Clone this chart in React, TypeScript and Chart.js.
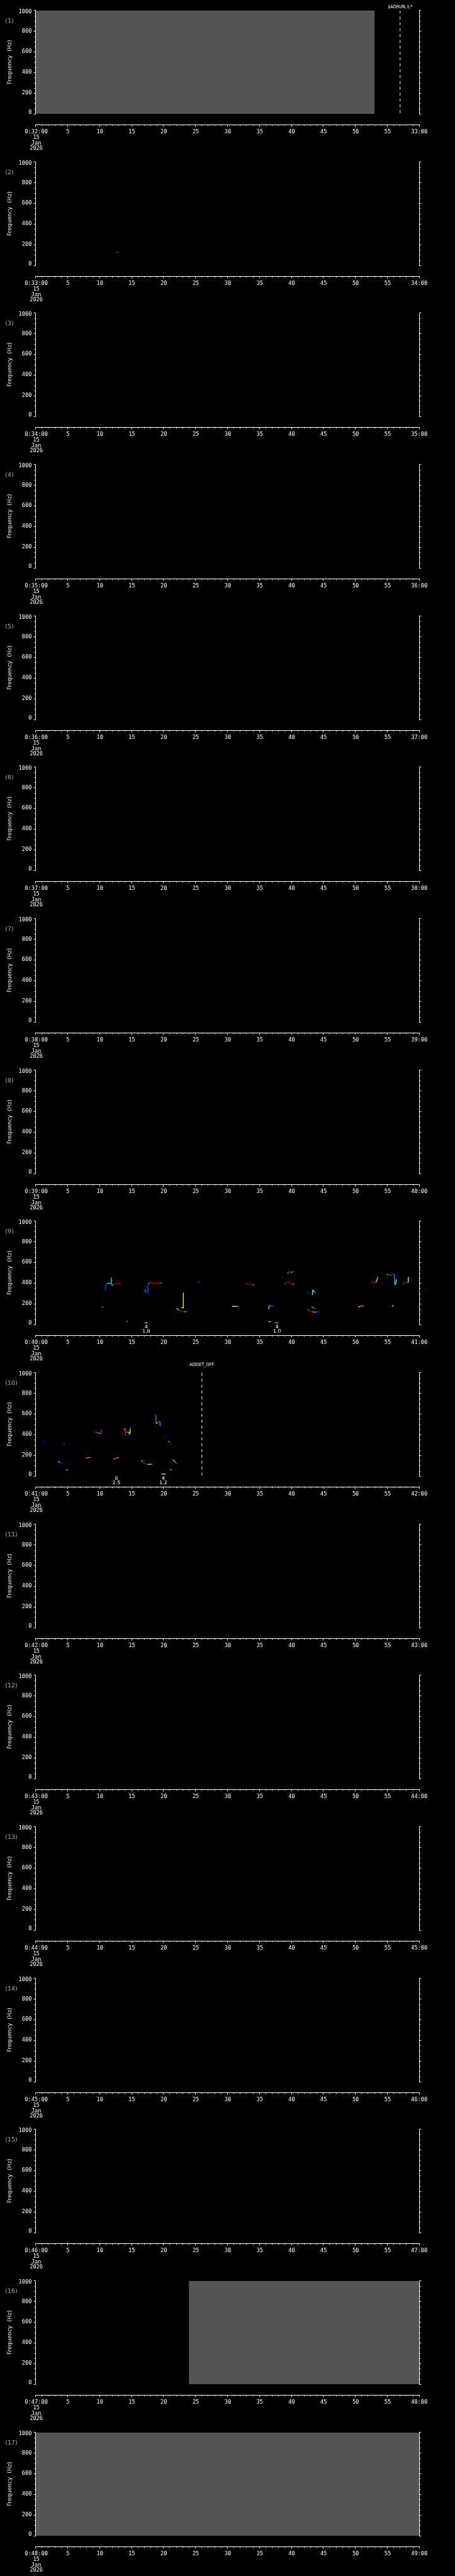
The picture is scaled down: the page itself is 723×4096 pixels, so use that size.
import React, { useEffect, useRef } from 'react';
import { Chart, registerables } from 'chart.js';

Chart.register(...registerables);

// ---------- scale & geometry (reference px, scaled by S) ----------
const S = 0.705;
const W = 723;
const PITCH = 341.36 * S;
const BLOCK_H = 241;

// ---------- labels ----------
const panelStartLabels = ['0:32:00', '0:33:00', '0:34:00', '0:35:00', '0:36:00', '0:37:00', '0:38:00', '0:39:00', '0:40:00', '0:41:00', '0:42:00', '0:43:00', '0:44:00', '0:45:00', '0:46:00', '0:47:00', '0:48:00'];
const panelEndLabels = ['33:00', '34:00', '35:00', '36:00', '37:00', '38:00', '39:00', '40:00', '41:00', '42:00', '43:00', '44:00', '45:00', '46:00', '47:00', '48:00', '49:00'];
const xInnerTickLabels = ['5', '10', '15', '20', '25', '30', '35', '40', '45', '50', '55'];
const xInnerTickValues = [5, 10, 15, 20, 25, 30, 35, 40, 45, 50, 55];
const dateLines = ['15', 'Jan', '2026'];
const yTickValues = [0, 200, 400, 600, 800, 1000];
const yTickLabels = ['0', '200', '400', '600', '800', '1000'];
const yAxisTitle = 'Frequency  (Hz)';

// gray (no data) regions: [panel number, from s, to s]
const grayRegions: [number, number, number][] = [
  [1, 0, 53.0],
  [16, 23.97, 60],
  [17, 0, 60],
];

// event markers: [panel, time s, label, label y (ref px in block)]
const eventMarkers: [number, number, string, number][] = [
  [1, 57.0, '$ADRUN,3,*', 15.8],
  [10, 26.0, 'ADDET_OFF', 5.6],
];

// annotations below plot: [panel, time s, line1, line2]
const annotations: [number, number, string, string][] = [
  [9, 17.3, '4', '1.8'],
  [9, 37.75, '4', '1.0'],
  [10, 12.63, '8', '2.5'],
  [10, 19.96, '4', '1.2'],
];

const COLORS: Record<string, string> = {
  DB: '#0000d0',
  B: '#0048ff',
  LB: '#00a8ff',
  C: '#10e4d8',
  G: '#98ff78',
  Y: '#f0f000',
  O: '#ff8000',
  R: '#ff1000',
  DR: '#b00000',
};

type Pt = [number, number, string];

// ---------- traces: [time s, frequency Hz, colour] ----------
const p2_a: Pt[] = [[12.7, 125, 'B'], [12.9, 125, 'LB']];

const p9_a: Pt[] = [[10.92, 328, 'DB'], [10.97, 385, 'B'], [11.1, 393, 'B'], [11.2, 397, 'LB'], [11.45, 397, 'C'], [11.8, 397, 'C'], [11.8, 454, 'C'], [11.83, 390, 'C'], [11.9, 385, 'O'], [12.0, 379, 'Y'], [12.1, 378, 'G'], [12.2, 385, 'R'], [12.35, 390, 'DR'], [12.6, 395, 'DR'], [12.9, 396, 'DR'], [13.1, 393, 'DR'], [13.4, 386, 'DR']];
const p9_b: Pt[] = [[17.1, 333, 'LB'], [17.22, 316, 'C'], [17.38, 306, 'B'], [17.52, 299, 'DB'], [17.56, 299, 'DB'], [17.56, 387, 'B'], [17.63, 387, 'G'], [17.7, 399, 'C'], [17.79, 405, 'R'], [18.0, 406, 'DR'], [18.3, 404, 'DR'], [18.5, 399, 'DR'], [18.85, 397, 'DR'], [19.2, 399, 'DR'], [19.55, 402, 'DR'], [19.7, 402, 'C']];
const p9_c: Pt[] = [[21.99, 155, 'LB'], [22.17, 151, 'C'], [22.31, 142, 'G'], [22.45, 135, 'O'], [22.64, 131, 'R'], [23.1, 125, 'DR'], [23.29, 124, 'R'], [23.45, 121, 'Y'], [23.68, 131, 'B'], [23.8, 131, 'B'], [24.03, 122, 'DB'], [24.15, 120, 'DB']];
const p9_d: Pt[] = [[22.76, 165, 'C'], [22.99, 160, 'G'], [23.1, 160, 'Y'], [23.1, 305, 'Y'], [23.17, 305, 'C']];
const p9_e: Pt[] = [[10.3, 170, 'B'], [10.6, 170, 'LB']];
const p9_f: Pt[] = [[14.2, 30, 'R'], [14.4, 30, 'C']];
const p9_g: Pt[] = [[17.07, 17, 'G'], [17.5, 17, 'Y']];
const p9_h: Pt[] = [[25.4, 410, 'LB'], [25.7, 410, 'B']];
const p9_i: Pt[] = [[32.8, 397, 'DR'], [33.26, 393, 'DR'], [33.61, 387, 'DR'], [33.96, 382, 'DR'], [34.2, 385, 'C']];
const p9_j: Pt[] = [[38.93, 387, 'Y'], [39.09, 399, 'R'], [39.23, 406, 'DR'], [39.51, 410, 'DR'], [39.74, 402, 'DR'], [39.97, 392, 'DR'], [40.2, 387, 'DR'], [40.43, 392, 'C']];
const p9_k: Pt[] = [[39.44, 491, 'G'], [39.51, 506, 'O'], [39.74, 511, 'DR'], [39.97, 501, 'DR'], [40.13, 506, 'Y'], [40.32, 511, 'B'], [40.48, 513, 'B']];
const p9_l: Pt[] = [[38.49, 453, 'C'], [38.72, 453, 'B']];
const p9_m: Pt[] = [[42.51, 316, 'B'], [42.7, 305, 'B'], [42.98, 295, 'DB'], [43.21, 288, 'DB'], [43.3, 285, 'DB'], [43.3, 335, 'G'], [43.39, 332, 'B'], [43.55, 316, 'Y'], [43.67, 309, 'C'], [43.79, 302, 'B']];
const p9_n: Pt[] = [[42.54, 145, 'B'], [42.7, 138, 'C'], [42.79, 131, 'R'], [42.98, 124, 'DR'], [43.32, 121, 'DR'], [43.44, 122, 'Y'], [43.67, 117, 'O'], [43.9, 120, 'C'], [44.41, 120, 'B']];
const p9_o: Pt[] = [[43.16, 171, 'C'], [43.39, 165, 'O'], [43.55, 160, 'C'], [43.79, 150, 'B']];
const p9_p: Pt[] = [[30.72, 174, 'C'], [31.06, 174, 'Y'], [31.41, 173, 'Y'], [31.64, 173, 'G'], [31.83, 174, 'B']];
const p9_q: Pt[] = [[36.45, 145, 'G'], [36.5, 177, 'G'], [36.62, 180, 'C'], [36.85, 180, 'LB'], [37.08, 174, 'B'], [37.24, 174, 'B']];
const p9_r: Pt[] = [[36.41, 27, 'B'], [36.78, 27, 'G']];
const p9_s: Pt[] = [[37.38, 17, 'C'], [38.0, 17, 'C']];
const p9_t: Pt[] = [[50.5, 167, 'Y'], [50.73, 174, 'Y'], [50.96, 180, 'O'], [51.19, 177, 'Y'], [51.42, 175, 'B'], [51.58, 175, 'DB']];
const p9_u: Pt[] = [[55.8, 171, 'G'], [55.8, 185, 'G'], [56.1, 185, 'B']];
const p9_v: Pt[] = [[52.5, 410, 'R'], [53.15, 405, 'DR'], [53.27, 410, 'Y'], [53.45, 444, 'G'], [53.5, 456, 'O'], [53.62, 457, 'C']];
const p9_w: Pt[] = [[54.93, 483, 'Y'], [55.12, 480, 'Y'], [55.35, 477, 'DR'], [55.7, 476, 'R'], [55.93, 483, 'DR'], [56.04, 487, 'B'], [56.13, 487, 'B'], [56.13, 392, 'LB'], [56.22, 386, 'C'], [56.3, 387, 'C'], [56.39, 416, 'Y'], [56.39, 435, 'Y'], [56.58, 436, 'B']];
const p9_x: Pt[] = [[57.43, 387, 'DR'], [57.59, 405, 'R'], [57.78, 409, 'DR'], [58.13, 406, 'DR'], [58.29, 409, 'G'], [58.29, 456, 'G'], [58.43, 459, 'LB']];
const p9_y: Pt[] = [[60.15, 530, 'R'], [60.5, 525, 'DR'], [60.8, 516, 'DR'], [61.0, 517, 'C']];
const p9_z: Pt[] = [[61.05, 330, 'B'], [61.15, 330, 'B']];
const p9_z2: Pt[] = [[60.15, 145, 'B'], [60.4, 130, 'DR'], [60.7, 118, 'R'], [61.0, 113, 'Y'], [61.3, 110, 'B'], [61.6, 110, 'B']];

const p10_a: Pt[] = [[1.14, 330, 'B'], [1.41, 330, 'DB']];
const p10_b: Pt[] = [[4.3, 320, 'LB'], [4.49, 313, 'B'], [4.6, 307, 'B']];
const p10_c: Pt[] = [[3.57, 143, 'O'], [3.68, 137, 'Y'], [3.8, 130, 'C'], [3.96, 120, 'B'], [4.14, 124, 'DB'], [4.37, 126, 'DB']];
const p10_d: Pt[] = [[4.72, 59, 'LB'], [5.07, 59, 'C']];
const p10_e: Pt[] = [[7.84, 169, 'R'], [7.96, 173, 'R'], [8.19, 177, 'O'], [8.42, 180, 'C'], [8.54, 183, 'C']];
const p10_f: Pt[] = [[9.28, 430, 'O'], [9.42, 423, 'R'], [9.7, 420, 'R'], [9.93, 416, 'R'], [10.11, 409, 'Y'], [10.25, 409, 'B'], [10.3, 451, 'B']];
const p10_g: Pt[] = [[13.74, 463, 'B'], [13.81, 449, 'B'], [13.9, 449, 'C'], [14.02, 459, 'R'], [14.02, 391, 'R'], [14.06, 391, 'R'], [14.06, 423, 'R'], [14.32, 426, 'DR'], [14.55, 423, 'Y'], [14.6, 413, 'C'], [14.72, 413, 'G'], [14.78, 413, 'G'], [14.78, 459, 'G'], [14.85, 471, 'B'], [14.9, 473, 'B']];
const p10_h: Pt[] = [[12.24, 161, 'B'], [12.36, 166, 'C'], [12.47, 170, 'O'], [12.66, 177, 'R'], [12.82, 177, 'Y'], [12.98, 179, 'C']];
const p10_i: Pt[] = [[16.52, 151, 'C'], [16.68, 144, 'Y'], [16.86, 133, 'R'], [17.1, 120, 'DR'], [17.28, 113, 'DR'], [17.56, 113, 'B'], [17.9, 113, 'Y'], [18.25, 113, 'C']];
const p10_j: Pt[] = [[18.62, 597, 'B'], [18.83, 583, 'B'], [18.83, 509, 'LB'], [18.95, 509, 'O'], [19.06, 516, 'Y'], [19.18, 523, 'R'], [19.31, 530, 'B'], [19.45, 526, 'B'], [19.45, 494, 'LB'], [19.59, 491, 'LB']];
const p10_k: Pt[] = [[20.15, 377, 'B'], [20.45, 377, 'DB']];
const p10_l: Pt[] = [[20.75, 337, 'LB'], [20.91, 329, 'C'], [21.1, 316, 'B']];
const p10_m: Pt[] = [[21.49, 156, 'C'], [21.65, 147, 'G'], [21.84, 133, 'C'], [22.0, 123, 'LB'], [22.14, 116, 'B']];
const p10_n: Pt[] = [[21.03, 66, 'Y'], [21.15, 61, 'G'], [21.26, 56, 'LB']];
const p10_o: Pt[] = [[19.64, 19, 'C'], [20.34, 19, 'G']];

const panelTraces: Record<number, Pt[][]> = {
  2: [p2_a],
  9: [p9_a, p9_b, p9_c, p9_d, p9_e, p9_f, p9_g, p9_h, p9_i, p9_j, p9_k, p9_l, p9_m, p9_n, p9_o, p9_p, p9_q, p9_r, p9_s, p9_t, p9_u, p9_v, p9_w, p9_x, p9_y, p9_z, p9_z2],
  10: [p10_a, p10_b, p10_c, p10_d, p10_e, p10_f, p10_g, p10_h, p10_i, p10_j, p10_k, p10_l, p10_m, p10_n, p10_o],
};

// ---------- helpers ----------
const MONO = '"DejaVu Sans Mono", monospace';
const SANS = '"DejaVu Sans", sans-serif';

function drawText(ctx: CanvasRenderingContext2D, str: string, x: number, y: number, font: string, color: string, align: CanvasTextAlign = 'center', fitW?: number) {
  ctx.save();
  ctx.font = font;
  ctx.fillStyle = color;
  ctx.textBaseline = 'middle';
  ctx.textAlign = align;
  ctx.translate(x, y);
  if (fitW) {
    const w = ctx.measureText(str).width;
    ctx.scale(fitW / w, 1);
  }
  ctx.fillText(str, 0, 0);
  ctx.restore();
}

function hline(ctx: CanvasRenderingContext2D, x1: number, x2: number, y: number) {
  ctx.beginPath();
  ctx.moveTo(x1, y);
  ctx.lineTo(x2, y);
  ctx.stroke();
}
function vline(ctx: CanvasRenderingContext2D, x: number, y1: number, y2: number) {
  ctx.beginPath();
  ctx.moveTo(x, y1);
  ctx.lineTo(x, y2);
  ctx.stroke();
}

function makeDecor(idx: number) {
  const panelNo = idx + 1;
  return {
    id: 'decor' + panelNo,
    afterDraw(chart: any) {
      const ctx: CanvasRenderingContext2D = chart.ctx;
      const xs = chart.scales.x;
      const ys = chart.scales.y;
      const { left, right, top, bottom } = chart.chartArea;
      const lx = Math.floor(left) + 0.5;
      const rx = Math.floor(right) + 0.5;
      ctx.save();
      ctx.strokeStyle = '#ffffff';
      ctx.lineWidth = 1;
      // y axes
      vline(ctx, lx, top, bottom + 0.5);
      vline(ctx, rx, top, bottom + 0.5);
      for (let v = 0; v <= 1000; v += 50) {
        const y = Math.round(ys.getPixelForValue(v)) + 0.5;
        const major = v % 200 === 0;
        const len = (major ? 4 : 2.3) * S;
        hline(ctx, lx - len, lx, y);
        hline(ctx, rx, rx + len, y);
      }
      yTickValues.forEach((v, k) => {
        let y = ys.getPixelForValue(v);
        if (v === 1000) y += 3.6 * S;
        if (v === 0) y -= 3.2 * S;
        drawText(ctx, yTickLabels[k], 71.5 * S, y, `${(12.3 * S).toFixed(2)}px ${MONO}`, '#ffffff', 'right');
      });
      // x axis (detached)
      const ax = Math.round(280.3 * S) + 0.5;
      hline(ctx, lx, rx + 0.5, ax);
      for (let t = 0; t <= 60; t += 1) {
        const x = Math.floor(xs.getPixelForValue(t)) + 0.5;
        const len = (t % 5 === 0 ? 4 : 2.3) * S;
        vline(ctx, x, ax, ax + len);
      }
      const tickFont = `${(12.3 * S).toFixed(2)}px ${MONO}`;
      drawText(ctx, panelStartLabels[idx], xs.getPixelForValue(0) + 1, 298 * S, tickFont, '#ffffff');
      xInnerTickValues.forEach((t, k) => drawText(ctx, xInnerTickLabels[k], xs.getPixelForValue(t) + 0.5, 298 * S, tickFont, '#ffffff'));
      drawText(ctx, panelEndLabels[idx], xs.getPixelForValue(60), 298 * S, tickFont, '#ffffff');
      const dy = [310, 322.4, 334.3];
      dateLines.forEach((d, k) => drawText(ctx, d, xs.getPixelForValue(0) + 1, dy[k] * S, tickFont, '#ffffff'));
      // panel number
      drawText(ctx, `(${panelNo})`, 11.7 * S, 47.3 * S, `${(13.5 * S).toFixed(2)}px ${SANS}`, '#a8a8a8', 'left');
      // y title
      ctx.save();
      ctx.translate(22.8 * S, (top + bottom) / 2);
      ctx.rotate(-Math.PI / 2);
      drawText(ctx, yAxisTitle, 0, 0, `${(12 * S).toFixed(2)}px ${SANS}`, '#e8e8e8', 'center', 100 * S);
      ctx.restore();
      // event labels
      eventMarkers.filter((e) => e[0] === panelNo).forEach((e) => {
        drawText(ctx, e[2], xs.getPixelForValue(e[1]), e[3] * S, `${(10 * S).toFixed(2)}px ${SANS}`, '#ffffff', 'center', 55.5 * S);
      });
      // annotations
      annotations.filter((a) => a[0] === panelNo).forEach((a) => {
        const x = xs.getPixelForValue(a[1]);
        drawText(ctx, a[2], x, 262.4 * S, `${(11 * S).toFixed(2)}px ${SANS}`, '#ffffff');
        drawText(ctx, a[3], x, 271.8 * S, `${(11 * S).toFixed(2)}px ${SANS}`, '#ffffff');
      });
      ctx.restore();
    },
  };
}

function buildDatasets(panelNo: number) {
  const ds: any[] = [];
  grayRegions.filter((g) => g[0] === panelNo).forEach((g) => {
    ds.push({
      data: [{ x: g[1], y: 1000 }, { x: g[2], y: 1000 }],
      fill: 'origin',
      backgroundColor: '#555555',
      borderWidth: 0,
      borderColor: 'rgba(0,0,0,0)',
      pointRadius: 0,
      order: 10,
    });
  });
  eventMarkers.filter((e) => e[0] === panelNo).forEach((e) => {
    ds.push({
      data: [{ x: e[1], y: 996 }, { x: e[1], y: 0 }],
      borderColor: '#ffffff',
      borderWidth: 1,
      borderDash: [6.4 * S, 6.8 * S],
      pointRadius: 0,
      fill: false,
      order: 5,
    });
  });
  (panelTraces[panelNo] || []).forEach((tr) => {
    ds.push({
      data: tr.map((p) => ({ x: p[0], y: p[1] })),
      borderColor: COLORS[tr[0][2]],
      borderWidth: 1.35,
      pointRadius: 0,
      fill: false,
      clip: false,
      order: 1,
      segment: {
        borderColor: (c: any) => COLORS[tr[c.p1DataIndex][2]],
      },
    });
  });
  return ds;
}

function Panel({ idx }: { idx: number }) {
  const ref = useRef<HTMLCanvasElement>(null);
  const top = Math.round(idx * PITCH);
  useEffect(() => {
    const canvas = ref.current;
    if (!canvas) return;
    const chart = new Chart(canvas, {
      type: 'line',
      data: { datasets: buildDatasets(idx + 1) },
      options: {
        animation: false,
        responsive: false,
        maintainAspectRatio: false,
        devicePixelRatio: 1,
        events: [],
        layout: {
          padding: {
            left: 80.3 * S,
            right: W - 945 * S,
            top: 23.3 * S,
            bottom: BLOCK_H - 256.6 * S,
          },
        },
        scales: {
          x: { type: 'linear', min: 0, max: 60, display: false },
          y: { type: 'linear', min: 0, max: 1000, display: false },
        },
        plugins: {
          legend: { display: false },
          tooltip: { enabled: false },
          title: { display: false },
        },
      } as any,
      plugins: [makeDecor(idx)],
    });
    return () => chart.destroy();
  }, [idx]);
  return (
    <canvas
      ref={ref}
      width={W}
      height={BLOCK_H}
      style={{ position: 'absolute', left: 0, top, width: W, height: BLOCK_H, display: 'block' }}
    />
  );
}

export default function App() {
  useEffect(() => {
    document.body.style.margin = '0';
    document.body.style.background = '#000';
  }, []);
  return (
    <div style={{ position: 'relative', width: W, height: 4096, background: '#000', overflow: 'hidden' }}>
      {panelStartLabels.map((_, i) => (
        <Panel key={i} idx={i} />
      ))}
    </div>
  );
}
